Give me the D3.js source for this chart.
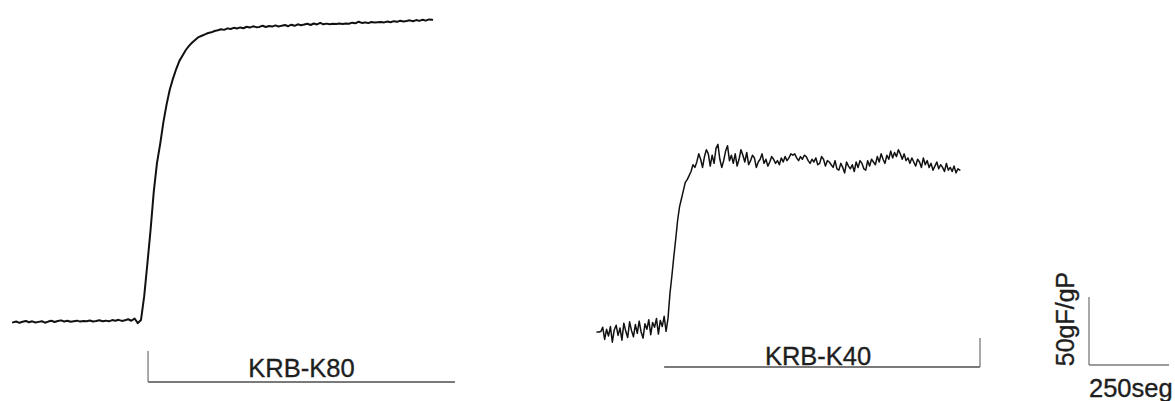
<!DOCTYPE html>
<html>
<head>
<meta charset="utf-8">
<script src="https://cdn.jsdelivr.net/npm/d3@7/dist/d3.min.js"></script>
<style>
  html, body { margin: 0; padding: 0; background: #fff; }
  svg { display: block; }
  text { font-family: "Liberation Sans", Arial, sans-serif; fill: #1e1e1e; stroke: #1e1e1e; stroke-width: 0.35px; }
</style>
</head>
<body>
<svg id="chart" width="1175" height="401"></svg>
<script>
// Isometric tension recordings (gF/gP) sampled at a fixed interval; time in seconds
// relative to the onset of the contraction.

// KRB-K80: sampled every 10 s starting at -400 s
const k80Start = -400;
const k80Step = 10;
const k80Tension = [
  -0.3, 0.4, -0.6, 0.2, 0.8, -0.2, 0.5, -0.4, 0.1, 0.6,
  -0.5, 0.3, 0.9, 0.0, 0.7, 1.2, 0.4, 0.9, 0.2, 0.6,
  1.0, 0.3, 0.8, 0.5, 1.1, 0.4, 0.7, 1.3, 0.6, 1.0,
  0.5, 1.4, 0.9, 1.6, 0.8, 1.3, 2.0, 0.9, 2.6, -0.8,
  1.5, 19, 43, 68, 96, 117, 131, 147, 160, 171,
  179, 186, 192, 196, 200, 203, 205.5, 207.5, 209.5, 210.5,
  211.5, 212.5, 213, 214,
  214.5, 215.2, 214.8, 215.9, 215.4, 216.3, 215.8, 216.6, 216.0, 217.1,
  216.5, 217.4, 216.8, 217.0, 217.8, 216.9, 217.6, 217.2, 218.1, 217.3,
  217.9, 218.4, 217.5, 218.6, 217.8, 218.9, 218.2, 218.7, 219.3, 218.4,
  219.5, 218.8, 220.0, 218.9, 219.4, 219.0, 219.3, 219.1, 219.4, 219.2,
  219.5, 219.3, 220.1, 219.6, 220.8, 219.9, 220.3, 219.8, 220.6, 220.2,
  220.4, 220.5, 220.3, 220.9, 220.4, 221.2, 220.7, 221.5, 220.9, 221.3,
  221.8, 221.1, 222.0, 221.4, 222.3, 221.6, 222.5, 222.2
];

// KRB-K40: sampled every 6 s starting at -222 s
const k40Start = -222;
const k40Step = 6;
const k40Tension = [
  0, 0, 0.3, 3.5, -5.5, 2.0, -3.0, 4.0, -7.5, 1.5,
  5.0, -2.5, 3.0, -6.0, 6.5, 0.5, -4.0, 7.5, 1.0, -3.5,
  5.5, -1.0, 8.0, 0.0, -4.5, 6.0, 2.0, 9.0, -2.0, 7.0,
  3.5, 10.0, -1.5, 8.5, 4.0, 11.5, 0.5,
  10, 28, 41, 55, 68, 82, 92, 98, 104, 110,
  112, 115, 118, 123, 121,
  125, 131, 127, 121, 129, 134, 131, 122, 130, 124,
  135, 138, 127, 121, 126, 133, 137, 126, 130, 124,
  131, 122, 127, 134, 130, 125, 132, 123, 126, 130,
  128, 121, 125, 127, 131, 124, 127, 122, 125, 129,
  127, 124, 126, 123, 128, 125, 129, 126, 128, 131,
  130, 131, 128, 126, 129, 127, 130, 129, 126, 124,
  127, 125, 128, 123, 124, 129, 127, 122, 126, 125,
  123, 121, 126, 120, 119, 124, 121, 117, 125, 122,
  120, 123, 118, 125, 121, 126, 124, 120, 119, 126,
  122, 127, 125, 123, 129, 125, 131, 127, 124, 130,
  127, 133, 128, 132, 129, 134, 131, 127, 131, 126,
  128, 124, 128, 125, 122, 127, 125, 121, 128, 123,
  126, 121, 124, 119, 122, 125, 120, 123, 121, 118,
  124, 119, 121, 118, 122, 117, 120, 119
];

// Stimulus periods [on, off] in seconds
const k80Stimulus = [22, 981];
const k40Stimulus = [-12, 975];

// Labels
const stimulusLabels = ["KRB-K80", "KRB-K40"];
const scaleBarValues = [250, 50];          // seconds, gF/gP
const scaleBarLabels = ["250seg", "50gF/gP"];

// ---- drawing -------------------------------------------------------------
const svg = d3.select("#chart");
svg.append("rect").attr("width", 1175).attr("height", 401).attr("fill", "#fff");

// 250 s spans 80 px, 50 gF/gP spans 68 px everywhere in the figure
const SEC_PX = 80, UNIT_PX = 68;

function makeScales(ox, oy) {
  return {
    x: d3.scaleLinear().domain([0, scaleBarValues[0]]).range([ox, ox + SEC_PX]),
    y: d3.scaleLinear().domain([0, scaleBarValues[1]]).range([oy, oy - UNIT_PX])
  };
}

const panels = [
  { values: k80Tension, start: k80Start, step: k80Step, stim: k80Stimulus,
    label: stimulusLabels[0], ox: 141, oy: 322, width: 2.0,
    barY: 60, tickSide: "start", tickH: 31, labelDx: 0, labelDy: -5 },
  { values: k40Tension, start: k40Start, step: k40Step, stim: k40Stimulus,
    label: stimulusLabels[1], ox: 668, oy: 332, width: 1.5,
    barY: 35, tickSide: "end", tickH: 29, labelDx: -4, labelDy: -2 }
];

panels.forEach(p => {
  const { x, y } = makeScales(p.ox, p.oy);
  const line = d3.line()
    .x((d, i) => x(p.start + i * p.step))
    .y(d => y(d));

  svg.append("path")
    .datum(p.values)
    .attr("d", line)
    .attr("fill", "none")
    .attr("stroke", "#111")
    .attr("stroke-width", p.width)
    .attr("stroke-linejoin", "round")
    .attr("stroke-linecap", "round");

  // stimulus bracket
  const x0 = x(p.stim[0]), x1 = x(p.stim[1]);
  const by = p.oy + p.barY;
  const g = svg.append("g")
    .attr("stroke", "#7a7a7a")
    .attr("fill", "none");
  g.append("line").attr("x1", x0).attr("x2", x1).attr("y1", by).attr("y2", by)
    .attr("stroke-width", 1.8);
  const tx = p.tickSide === "start" ? x0 : x1;
  g.append("line").attr("x1", tx).attr("x2", tx).attr("y1", by).attr("y2", by - p.tickH)
    .attr("stroke-width", 1.3);

  svg.append("text")
    .attr("x", (x0 + x1) / 2 + p.labelDx)
    .attr("y", by + p.labelDy)
    .attr("text-anchor", "middle")
    .attr("font-size", 25.5)
    .text(p.label);
});

// calibration bar
const bar = makeScales(1089, 365);
const barG = svg.append("g").attr("stroke", "#7a7a7a").attr("fill", "none").attr("stroke-width", 1.3);
barG.append("line")
  .attr("x1", bar.x(0)).attr("x2", bar.x(0))
  .attr("y1", bar.y(0)).attr("y2", bar.y(scaleBarValues[1]));
barG.append("line")
  .attr("x1", bar.x(0)).attr("x2", bar.x(scaleBarValues[0]))
  .attr("y1", bar.y(0)).attr("y2", bar.y(0));

svg.append("text")
  .attr("x", bar.x(0))
  .attr("y", bar.y(0) + 32)
  .attr("font-size", 25.5)
  .text(scaleBarLabels[0]);

svg.append("text")
  .attr("transform", `translate(${bar.x(0) - 15},${bar.y(scaleBarValues[1] / 2) - 12}) rotate(-90)`)
  .attr("text-anchor", "middle")
  .attr("font-size", 25)
  .text(scaleBarLabels[1]);
</script>
</body>
</html>
